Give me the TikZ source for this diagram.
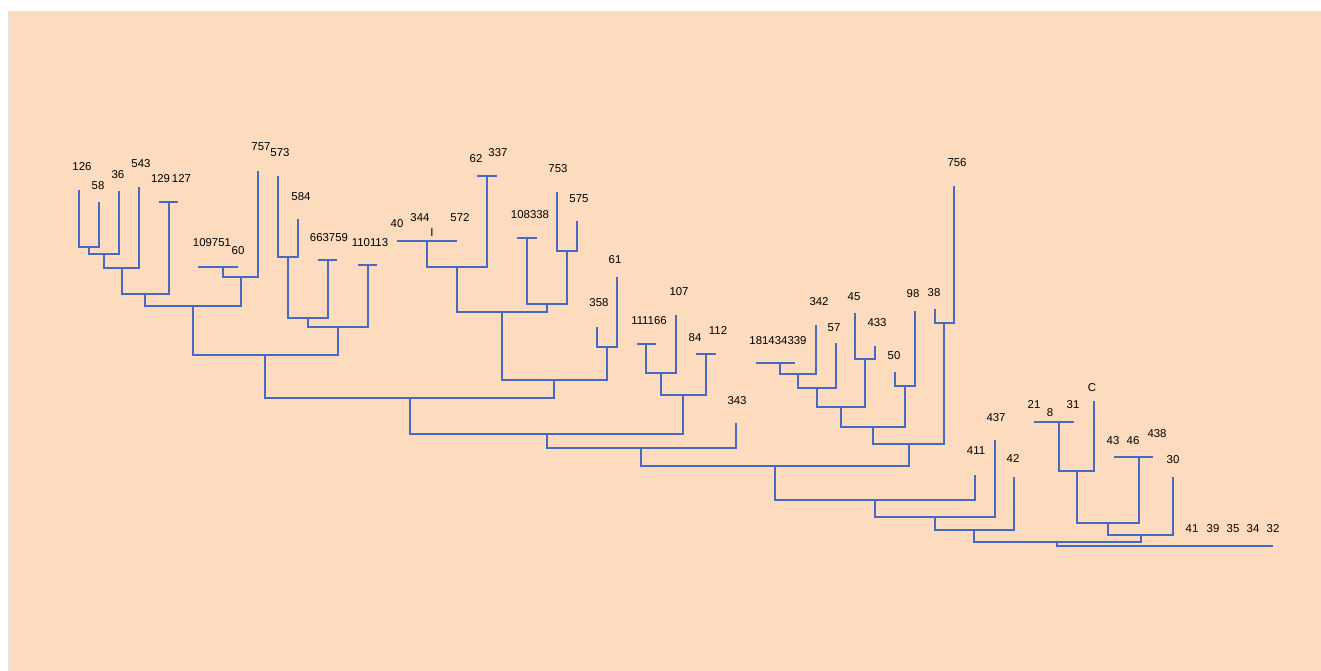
\documentclass[tikz,border=0pt]{standalone}
\usepackage{fontspec}
\setmainfont{Liberation Sans}
\definecolor{peach}{RGB}{252,219,190}
\definecolor{treeblue}{RGB}{70,106,196}

\begin{document}
\begin{tikzpicture}[x=1pt, y=-1pt, branch/.style={draw=treeblue, line width=1.1pt}, taxon/.style={inner sep=0pt, font=\fontsize{11.4}{13}\selectfont}]
	\useasboundingbox (0,0) rectangle (1321,671);
	\fill[peach] (9,11) rectangle (1321,671);
	\draw[black!12, line width=1pt] (8.5,11) -- (8.5,671);

	% taxon labels
	\node[taxon] (t126) at (82,167) {126};
	\node[taxon] (t58) at (98,186) {58};
	\node[taxon] (t36) at (118,175) {36};
	\node[taxon] (t543) at (141,164) {543};
	\node[taxon] (t129) at (171,179) {129\,127};
	\node[taxon] (t109) at (212,243) {109751};
	\node[taxon] (t60) at (238,251) {60};
	\node[taxon] (t757) at (261,147) {757};
	\node[taxon] (t573) at (280,153) {573};
	\node[taxon] (t584) at (301,197) {584};
	\node[taxon] (t663) at (329,238) {663759};
	\node[taxon] (t110) at (370,243) {110113};
	\node[taxon] (t40) at (397,224) {40};
	\node[taxon] (t344) at (420,218) {344};
	\node[taxon] (t572) at (460,218) {572};
	\node[taxon] (tI) at (432,233) {I};
	\node[taxon] (t62) at (476,159) {62};
	\node[taxon] (t337) at (498,153) {337};
	\node[taxon] (t753) at (558,169) {753};
	\node[taxon] (t575) at (579,199) {575};
	\node[taxon] (t108) at (530,215) {108338};
	\node[taxon] (t61) at (615,260) {61};
	\node[taxon] (t358) at (599,303) {358};
	\node[taxon] (t107) at (679,292) {107};
	\node[taxon] (t111) at (649,321) {111166};
	\node[taxon] (t84) at (695,338) {84};
	\node[taxon] (t112) at (718,331) {112};
	\node[taxon] (t343) at (737,401) {343};
	\node[taxon] (t342) at (819,302) {342};
	\node[taxon] (t45) at (854,297) {45};
	\node[taxon] (t57) at (834,328) {57};
	\node[taxon] (t433) at (877,323) {433};
	\node[taxon] (t181) at (778,341) {181434339};
	\node[taxon] (t50) at (894,356) {50};
	\node[taxon] (t98) at (913,294) {98};
	\node[taxon] (t38) at (934,293) {38};
	\node[taxon] (t756) at (957,163) {756};
	\node[taxon] (t437) at (996,418) {437};
	\node[taxon] (t411) at (976,451) {411};
	\node[taxon] (t42) at (1013,459) {42};
	\node[taxon] (t21) at (1034,405) {21};
	\node[taxon] (t8) at (1050,413) {8};
	\node[taxon] (t31) at (1073,405) {31};
	\node[taxon] (tC) at (1092,388) {C};
	\node[taxon] (t43) at (1113,441) {43};
	\node[taxon] (t46) at (1133,441) {46};
	\node[taxon] (t438) at (1157,434) {438};
	\node[taxon] (t30) at (1173,460) {30};
	\node[taxon] (t41) at (1192,529) {41};
	\node[taxon] (t39) at (1213,529) {39};
	\node[taxon] (t35) at (1233,529) {35};
	\node[taxon] (t34) at (1253,529) {34};
	\node[taxon] (t32) at (1273,529) {32};

	% leaf tips
	\coordinate (l126) at (79,190);
	\coordinate (l58) at (99,202);
	\coordinate (l36) at (119,191);
	\coordinate (l543) at (139,187);
	\coordinate (l757) at (258,171);
	\coordinate (l573) at (278,176);
	\coordinate (l584) at (298,219);
	\coordinate (l753) at (557,192);
	\coordinate (l575) at (577,221);
	\coordinate (l358) at (597,327);
	\coordinate (l61) at (617,277);
	\coordinate (l107) at (676,315);
	\coordinate (l343) at (736,423);
	\coordinate (l342) at (816,325);
	\coordinate (l57) at (836,343);
	\coordinate (l45) at (855,313);
	\coordinate (l433) at (875,346);
	\coordinate (l50) at (895,372);
	\coordinate (l98) at (915,311);
	\coordinate (l38) at (935,309);
	\coordinate (l756) at (954,186);
	\coordinate (l411) at (975,475);
	\coordinate (l437) at (995,440);
	\coordinate (l42) at (1014,477);
	\coordinate (lC) at (1094,401);
	\coordinate (l30) at (1173,477);

	% flat bars
	\coordinate (s129) at (169,202);
	\coordinate (s109) at (223,267);
	\coordinate (s663) at (328,260);
	\coordinate (s110) at (368,265);
	\coordinate (s40) at (427,241);
	\coordinate (s62) at (487,176);
	\coordinate (s108) at (527,238);
	\coordinate (s111) at (646,344);
	\coordinate (s84) at (706,354);
	\coordinate (s181) at (780,363);
	\coordinate (s21) at (1059,422);
	\coordinate (s43) at (1139,457);
	\draw[branch] (159,202) -- (178,202);
	\draw[branch] (198,267) -- (238,267);
	\draw[branch] (318,260) -- (337,260);
	\draw[branch] (358,265) -- (377,265);
	\draw[branch] (397,241) -- (457,241);
	\draw[branch] (477,176) -- (497,176);
	\draw[branch] (517,238) -- (537,238);
	\draw[branch] (637,344) -- (656,344);
	\draw[branch] (696,354) -- (716,354);
	\draw[branch] (756,363) -- (795,363);
	\draw[branch] (1034,422) -- (1074,422);
	\draw[branch] (1114,457) -- (1153,457);

	% joins
	\coordinate (j1) at (89,247);
	\coordinate (j2) at (104,254);
	\coordinate (j3) at (122,268);
	\coordinate (j4) at (145,294);
	\coordinate (j5) at (241,277);
	\coordinate (j6) at (193,306);
	\coordinate (j7) at (288,257);
	\coordinate (j8) at (308,318);
	\coordinate (j9) at (338,327);
	\coordinate (j10) at (265,355);
	\coordinate (j11) at (457,267);
	\coordinate (j12) at (567,251);
	\coordinate (j13) at (547,304);
	\coordinate (j14) at (502,312);
	\coordinate (j15) at (607,347);
	\coordinate (j16) at (554,380);
	\coordinate (j17) at (410,398);
	\coordinate (j18) at (661,373);
	\coordinate (j19) at (683,395);
	\coordinate (j20) at (547,434);
	\coordinate (j21) at (641,448);
	\coordinate (j22) at (798,374);
	\coordinate (j23) at (817,388);
	\coordinate (j24) at (865,359);
	\coordinate (j25) at (841,407);
	\coordinate (j26) at (905,386);
	\coordinate (j27) at (873,427);
	\coordinate (j28) at (944,323);
	\coordinate (j29) at (909,444);
	\coordinate (j30) at (775,466);
	\coordinate (j31) at (875,500);
	\coordinate (j32) at (935,517);
	\coordinate (j33) at (974,530);
	\coordinate (j34) at (1077,471);
	\coordinate (j35) at (1108,523);
	\coordinate (j36) at (1141,535);
	\coordinate (j37) at (1057,542);
	\coordinate (root) at (1057,546);
	\coordinate (rootR) at (1273,546);

	\draw[branch] (l126) |- (j1) -| (l58);
	\draw[branch] (j1) |- (j2) -| (l36);
	\draw[branch] (j2) |- (j3) -| (l543);
	\draw[branch] (j3) |- (j4) -| (s129);
	\draw[branch] (s109) |- (j5) -| (l757);
	\draw[branch] (j4) |- (j6) -| (j5);
	\draw[branch] (l573) |- (j7) -| (l584);
	\draw[branch] (j7) |- (j8) -| (s663);
	\draw[branch] (j8) |- (j9) -| (s110);
	\draw[branch] (j6) |- (j10) -| (j9);
	\draw[branch] (s40) |- (j11) -| (s62);
	\draw[branch] (l753) |- (j12) -| (l575);
	\draw[branch] (s108) |- (j13) -| (j12);
	\draw[branch] (j11) |- (j14) -| (j13);
	\draw[branch] (l358) |- (j15) -| (l61);
	\draw[branch] (j14) |- (j16) -| (j15);
	\draw[branch] (j10) |- (j17) -| (j16);
	\draw[branch] (s111) |- (j18) -| (l107);
	\draw[branch] (j18) |- (j19) -| (s84);
	\draw[branch] (j17) |- (j20) -| (j19);
	\draw[branch] (j20) |- (j21) -| (l343);
	\draw[branch] (s181) |- (j22) -| (l342);
	\draw[branch] (j22) |- (j23) -| (l57);
	\draw[branch] (l45) |- (j24) -| (l433);
	\draw[branch] (j23) |- (j25) -| (j24);
	\draw[branch] (l50) |- (j26) -| (l98);
	\draw[branch] (j25) |- (j27) -| (j26);
	\draw[branch] (l38) |- (j28) -| (l756);
	\draw[branch] (j27) |- (j29) -| (j28);
	\draw[branch] (j21) |- (j30) -| (j29);
	\draw[branch] (j30) |- (j31) -| (l411);
	\draw[branch] (j31) |- (j32) -| (l437);
	\draw[branch] (j32) |- (j33) -| (l42);
	\draw[branch] (s21) |- (j34) -| (lC);
	\draw[branch] (j34) |- (j35) -| (s43);
	\draw[branch] (j35) |- (j36) -| (l30);
	\draw[branch] (j33) |- (j37) -| (j36);
	\draw[branch] (j37) -- (root) -- (rootR);
\end{tikzpicture}
\end{document}
